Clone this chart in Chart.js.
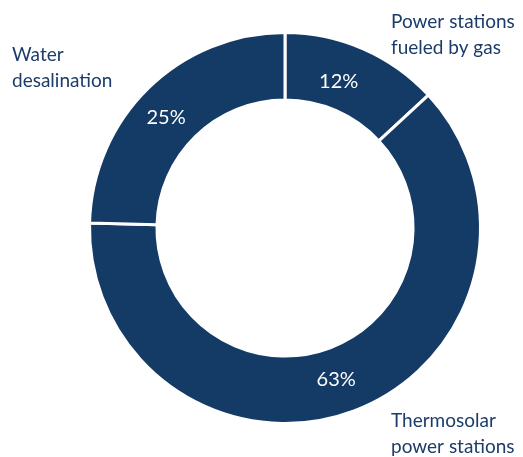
<!DOCTYPE html>
<html>
<head>
<meta charset="utf-8">
<script src="https://cdn.jsdelivr.net/npm/chart.js@4/dist/chart.umd.min.js"></script>
<style>
  html, body { margin: 0; padding: 0; background: #fff; }
  #wrap { position: relative; width: 523px; height: 457px; }
</style>
</head>
<body>
<div id="wrap"><canvas id="chart" width="523" height="457"></canvas></div>
<script>
  // Datos
  const categories = [['Power stations', 'fueled by gas'], ['Thermosolar', 'power stations'], ['Water', 'desalination']];
  // etiquetas tal como aparecen
  const pctLabels = ['12%', '63%', '25%'];
  // tamaño de los arcos, medido en la imagen
  const arcShares = [13.1, 62.3, 24.6];

  const NAVY = '#143a66';
  const TEXT = '#1c3c6a';

  // Posición de etiquetas exteriores (px en el lienzo)
  const outerPos = [
    { x: 391, y: 22 },
    { x: 391, y: 421 },
    { x: 12, y: 55 },
  ];
  // ajuste fino de los porcentajes respecto al centro del arco
  const pctNudge = [[-11, 2], [-6, 0], [-6, 5]];

  const labelsPlugin = {
    id: 'labels',
    afterDatasetsDraw(chart) {
      const ctx = chart.ctx;
      const meta = chart.getDatasetMeta(0);
      ctx.save();
      ctx.fillStyle = '#fff';
      ctx.font = '20px Lato';
      ctx.textAlign = 'center';
      ctx.textBaseline = 'middle';
      meta.data.forEach(function (arc, i) {
        const p = arc.tooltipPosition();
        ctx.fillText(pctLabels[i], p.x + pctNudge[i][0], p.y + pctNudge[i][1]);
      });
      ctx.fillStyle = TEXT;
      ctx.font = '19px Lato';
      ctx.textAlign = 'left';
      categories.forEach(function (lines, i) {
        lines.forEach(function (t, j) {
          ctx.fillText(t, outerPos[i].x, outerPos[i].y + j * 26);
        });
      });
      ctx.restore();
    },
  };

  new Chart(document.getElementById('chart'), {
    type: 'doughnut',
    data: {
      labels: categories.map(function (c) { return c.join(' '); }),
      datasets: [{
        data: arcShares,
        backgroundColor: NAVY,
        borderColor: '#fff',
        borderWidth: 3,
        cutout: '65.5%',
      }],
    },
    options: {
      responsive: false,
      animation: false,
      layout: { padding: { left: 88, right: 41, top: 31, bottom: 32 } },
      plugins: { legend: { display: false }, tooltip: { enabled: false } },
    },
    plugins: [labelsPlugin],
  });
</script>
</body>
</html>
